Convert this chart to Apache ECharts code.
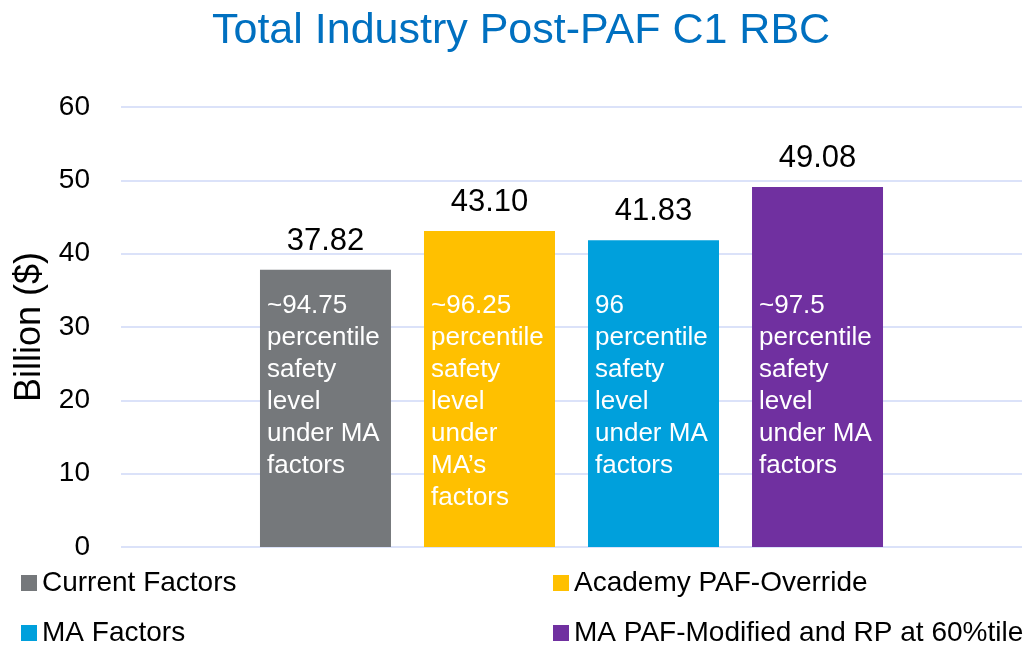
<!DOCTYPE html>
<html>
<head>
<meta charset="utf-8">
<title>Total Industry Post-PAF C1 RBC</title>
<script src="https://cdn.jsdelivr.net/npm/echarts@6/dist/echarts.min.js"></script>
<style>
  html, body { margin: 0; padding: 0; background: #fff; }
  #chart { width: 1028px; height: 646px; }
</style>
</head>
<body>
<div id="chart"></div>
<script>
// Chart data
var seriesNames = ['Current Factors', 'Academy PAF-Override', 'MA Factors', 'MA PAF-Modified and RP at 60%tile'];
var seriesValues = [37.82, 43.10, 41.83, 49.08];
var seriesColors = ['#75787b', '#ffc000', '#00a0dc', '#7030a0'];
var barNotes = [
  '~94.75\npercentile\nsafety\nlevel\nunder MA\nfactors',
  '~96.25\npercentile\nsafety\nlevel\nunder\nMA\u2019s\nfactors',
  '96\npercentile\nsafety\nlevel\nunder MA\nfactors',
  '~97.5\npercentile\nsafety\nlevel\nunder MA\nfactors'
];
var categories = [''];
var yTicks = { min: 0, max: 60, interval: 10 };

var FONT = '"Liberation Sans", Arial, sans-serif';
// y value where the (invisible) note carrier bars end; the notes hang from it
var noteAnchor = 36.0;

var chart = echarts.init(document.getElementById('chart'), null, { renderer: 'canvas' });

var series = [];
// visible bars with the value on top
seriesNames.forEach(function (name, i) {
  series.push({
    name: name,
    type: 'bar',
    xAxisIndex: 0,
    barWidth: 131,
    barGap: '25.2%',
    data: [seriesValues[i]],
    itemStyle: { color: seriesColors[i] },
    label: {
      show: true,
      position: 'top',
      distance: 13,
      fontFamily: FONT,
      fontSize: 31,
      color: '#000',
      formatter: function (p) { return p.value.toFixed(2); }
    },
    z: 2
  });
});
// transparent twins on a hidden axis, carrying the notes inside the bars
barNotes.forEach(function (note, i) {
  series.push({
    name: 'note' + i,
    type: 'bar',
    xAxisIndex: 1,
    barWidth: 131,
    barGap: '25.2%',
    silent: true,
    data: [noteAnchor],
    itemStyle: { color: 'rgba(0,0,0,0)' },
    label: {
      show: true,
      position: 'insideTopLeft',
      distance: 7,
      fontFamily: FONT,
      fontSize: 26,
      lineHeight: 32,
      color: '#fff',
      formatter: function () { return note; }
    },
    z: 3
  });
});

var legendText = { fontFamily: FONT, fontSize: 28, color: '#000' };

function makeLegend(names, left) {
  return {
    data: names,
    orient: 'vertical',
    left: left,
    top: 569,
    height: 100,
    padding: 0,
    itemGap: 22,
    itemWidth: 16,
    itemHeight: 16,
    icon: 'rect',
    selectedMode: false,
    textStyle: legendText
  };
}

var option = {
  animation: false,
  textStyle: { fontFamily: FONT },
  title: {
    text: 'Total Industry Post-PAF C1 RBC',
    left: 212,
    top: 10,
    padding: 0,
    textStyle: { color: '#0070c0', fontSize: 43, fontWeight: 'normal', fontFamily: FONT }
  },
  legend: [
    makeLegend([seriesNames[0], seriesNames[2]], 21),
    makeLegend([seriesNames[1], seriesNames[3]], 553)
  ],
  grid: { left: 121, right: 6, top: 107, bottom: 99, containLabel: false, outerBoundsMode: 'none' },
  xAxis: [
    {
      type: 'category',
      data: categories,
      axisLine: { show: false },
      axisTick: { show: false },
      axisLabel: { show: false }
    },
    {
      type: 'category',
      data: categories,
      show: false
    }
  ],
  yAxis: {
    type: 'value',
    min: yTicks.min,
    max: yTicks.max,
    interval: yTicks.interval,
    name: 'Billion ($)',
    nameLocation: 'middle',
    nameRotate: 90,
    nameGap: 72,
    nameTextStyle: { fontFamily: FONT, fontSize: 36, color: '#000' },
    axisLine: { show: false },
    axisTick: { show: false },
    axisLabel: { fontFamily: FONT, fontSize: 28, color: '#000', margin: 31 },
    splitLine: { lineStyle: { color: '#cfd9f7', width: 1.5 } }
  },
  series: series
};

chart.setOption(option);
</script>
</body>
</html>
